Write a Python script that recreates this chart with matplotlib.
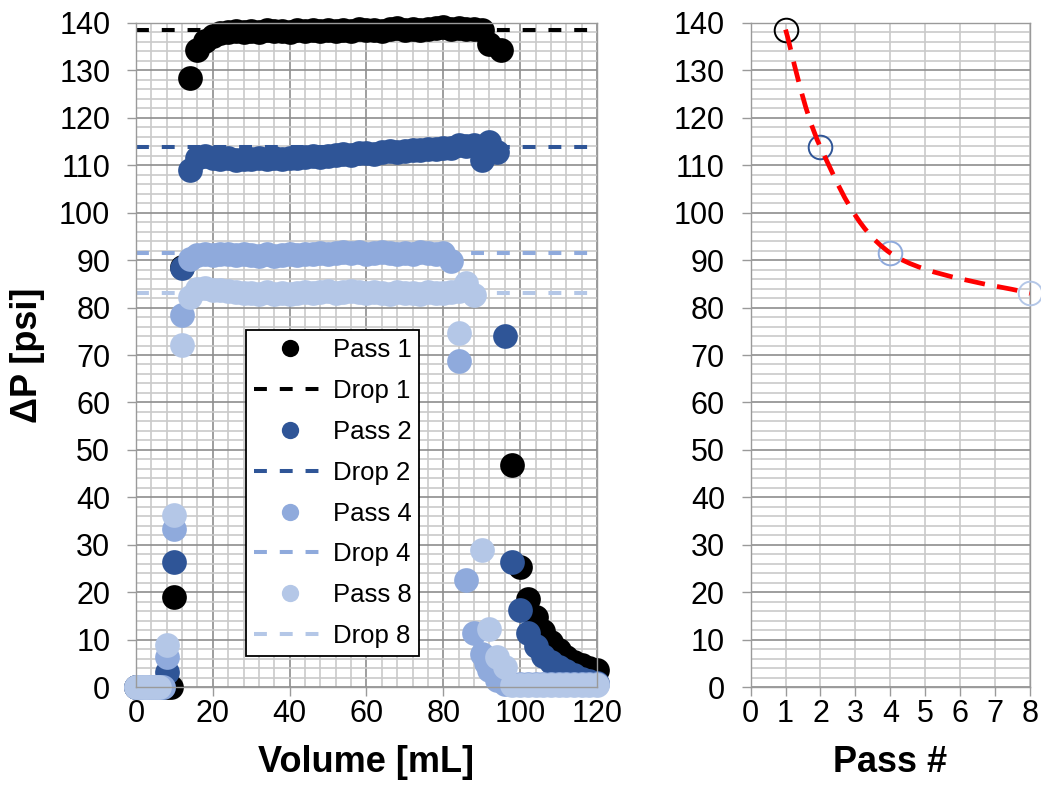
import numpy as np
import matplotlib
matplotlib.use('Agg')
import matplotlib.pyplot as plt
from matplotlib.path import Path
from matplotlib.patches import PathPatch
from matplotlib.ticker import MultipleLocator

plt.rcParams['font.family'] = ['Liberation Sans', 'DejaVu Sans']

# pressure drop vs. volume pushed, one trace per pass
vol_p1 = [0, 1, 2, 3, 4, 5, 6, 7, 8, 9, 10, 12, 14, 16, 18,
          20, 22, 24, 26, 28, 30, 32, 34, 36, 38, 40, 42, 44, 46, 48, 50, 52, 54,
          56, 58, 60, 62, 64, 66, 68, 70, 72, 74, 76, 78, 80, 82, 84, 86, 88, 90,
          92, 95, 98, 100, 102, 104, 106, 108, 110, 112, 114, 116, 118, 120]
dp_p1 = [0, 0, 0, 0, 0, 0, 0, 0, 0, 0, 19.0, 88.5, 128.4, 134.4, 136.3,
         137.2, 137.8, 138.0, 138.3, 138.1, 138.4, 138.2, 138.5, 138.3, 138.4, 138.2, 138.5, 138.3, 138.6, 138.4, 138.5, 138.3, 138.6,
         138.4, 138.7, 138.5, 138.6, 138.4, 138.7, 138.9, 138.6, 138.8, 138.5, 138.7, 138.9, 139.2, 138.8, 138.9, 138.7, 138.8, 138.5,
         135.6, 134.2, 46.8, 25.4, 18.5, 14.8, 11.8, 9.5, 7.8, 6.4, 5.3, 4.6, 4.0, 3.6]

vol_p2 = [0, 1, 2, 3, 4, 5, 6, 7, 8, 10, 12, 14, 16, 18,
          20, 22, 24, 26, 28, 30, 32, 34, 36, 38, 40, 42, 44, 46, 48, 50, 52, 54,
          56, 58, 60, 62, 64, 66, 68, 70, 72, 74, 76, 78, 80, 82, 84, 86, 88,
          90, 92, 94, 96, 98, 100, 102, 104, 106, 108, 110, 112, 114, 116, 118, 120]
dp_p2 = [0, 0, 0, 0, 0, 0, 0, 0, 3.2, 26.4, 88.3, 109.0, 111.6, 111.9,
         111.6, 111.3, 111.5, 111.2, 111.4, 111.3, 111.6, 111.4, 111.5, 111.3, 111.6, 111.5, 111.7, 111.9, 111.8, 112.0, 112.1, 112.3,
         112.2, 112.5, 112.6, 112.4, 112.8, 113.0, 112.8, 113.1, 113.3, 113.2, 113.5, 113.4, 113.6, 113.7, 114.2, 114.0, 114.3,
         111.2, 115.0, 112.8, 74.1, 26.4, 16.2, 11.3, 8.6, 6.6, 5.2, 4.2, 3.4, 2.6, 1.8, 1.2, 0.8]

vol_p4 = [0, 1, 2, 3, 4, 5, 6, 7, 8, 10, 12, 14,
          16, 18, 20, 22, 24, 26, 28, 30, 32, 34, 36, 38, 40, 42, 44, 46, 48,
          50, 52, 54, 56, 58, 60, 62, 64, 66, 68, 70, 72, 74, 76, 78, 80,
          82, 84, 86, 88, 90, 91, 92, 94,
          96, 98, 100, 102, 104, 106, 108, 110, 112, 114, 116, 118, 120]
dp_p4 = [0, 0, 0, 0, 0, 0, 0, 0, 6.4, 33.3, 78.5, 90.3,
         91.0, 91.3, 91.1, 91.4, 91.2, 91.0, 91.3, 91.1, 90.9, 91.2, 90.8, 91.0, 91.3,
         91.1, 91.4, 91.2, 91.5, 91.3, 91.6, 91.8, 91.5, 91.7, 91.4, 91.6, 91.8, 91.5, 91.3, 91.6, 91.4, 91.7, 91.5, 91.3, 91.5,
         89.8, 68.7, 22.6, 11.3, 7.0, 5.0, 3.6, 1.5,
         0.6, 0.6, 0.6, 0.6, 0.6, 0.6, 0.6, 0.6, 0.6, 0.6, 0.6, 0.6, 0.6]

vol_p8 = [0, 1, 2, 3, 4, 5, 6, 8, 10, 12, 14,
          16, 18, 20, 22, 24, 26, 28, 30, 32, 34, 36, 38, 40, 42, 44, 46, 48, 50,
          52, 54, 56, 58, 60, 62, 64, 66, 68, 70, 72, 74, 76, 78, 80, 82, 84,
          86, 88, 84, 90, 92, 94, 96,
          98, 100, 102, 104, 106, 108, 110, 112, 114, 116, 118, 120]
dp_p8 = [0, 0, 0, 0, 0, 0, 0, 8.9, 36.3, 72.2, 82.3,
         84.0, 84.2, 83.8, 83.6, 83.4, 83.2, 83.0, 83.1, 82.9, 83.2, 82.8, 83.0, 82.9, 83.1, 83.3, 83.0, 83.2, 83.4,
         83.1, 83.3, 83.5, 83.2, 83.0, 83.3, 83.1, 82.9, 83.2, 83.0, 83.1, 82.9, 83.2, 83.0, 83.1, 83.3, 83.4,
         85.2, 82.7, 74.6, 28.8, 12.2, 6.4, 4.3,
         0.5, 0.5, 0.5, 0.5, 0.5, 0.5, 0.5, 0.5, 0.5, 0.5, 0.5, 0.5]

# steady-state drop for each pass
pass_num = [1, 2, 4, 8]
drop_dp = [138.6, 113.8, 91.5, 83.0]

colors = ['#000000', '#2F5597', '#8FAADC', '#B4C7E7']
series = [(vol_p1, dp_p1), (vol_p2, dp_p2), (vol_p4, dp_p4), (vol_p8, dp_p8)]

major_c = '#8e8e8e'
minor_c = '#cacaca'
axis_c = '#9a9a9a'


def style_axis(ax):
    ax.set_axisbelow(True)
    ax.yaxis.set_major_locator(MultipleLocator(10))
    ax.yaxis.set_minor_locator(MultipleLocator(2))
    ax.set_ylim(0, 140)
    ax.grid(which='major', axis='y', color=major_c, lw=1.2)
    ax.grid(which='minor', axis='y', color=minor_c, lw=1.2)
    for s in ax.spines.values():
        s.set_color(axis_c)
        s.set_linewidth(1.0)
    ax.tick_params(which='major', direction='out', length=6.5, width=1, color=axis_c,
                   labelsize=22, pad=2)
    ax.tick_params(axis='y', which='major', pad=12)
    ax.tick_params(which='minor', length=0)


def smooth_path(xs, ys):
    # Catmull-Rom segments written as cubic Bezier pieces (spreadsheet-style smoothed line)
    pts = np.column_stack([xs, ys]).astype(float)
    n = len(pts)
    verts = [pts[0]]
    codes = [Path.MOVETO]
    for i in range(n - 1):
        p0 = pts[i - 1] if i > 0 else pts[i]
        p1 = pts[i]
        p2 = pts[i + 1]
        p3 = pts[i + 2] if i + 2 < n else pts[i + 1]
        verts += [p1 + (p2 - p0) / 6.0, p2 - (p3 - p1) / 6.0, p2]
        codes += [Path.CURVE4] * 3
    return Path(verts, codes)


fig = plt.figure(figsize=(10.41, 7.95), dpi=100)
ax1 = fig.add_axes([0.1306, 0.1358, 0.4429, 0.8353])
ax2 = fig.add_axes([0.7211, 0.1358, 0.2683, 0.8353])

# ---- left: dP vs volume ----
style_axis(ax1)
ax1.set_xlim(0, 120)
ax1.xaxis.set_major_locator(MultipleLocator(20))
ax1.xaxis.set_minor_locator(MultipleLocator(4))
ax1.grid(which='major', axis='x', color=major_c, lw=1.2)
ax1.grid(which='minor', axis='x', color=minor_c, lw=1.2)

for (vx, vy), c, p, d in zip(series, colors, pass_num, drop_dp):
    ax1.plot(vx, vy, 'o', ms=17.8, color=c, mew=0, ls='none', clip_on=False,
             label='Pass %d' % p)
    ax1.axhline(d, color=c, lw=2.9, ls=(0, (3.2, 3.2)), label='Drop %d' % p)

leg = ax1.legend(loc='upper left', bbox_to_anchor=(0.2386, 0.5377), borderaxespad=0,
                 fontsize=18.5, markerscale=0.7, handlelength=2.8, handletextpad=0.28,
                 labelspacing=0.66, borderpad=0.3, fancybox=False, framealpha=1,
                 edgecolor='black')
leg.get_frame().set_linewidth(1.3)

ax1.set_xlabel('Volume [mL]', fontsize=26, fontweight='bold')
ax1.set_ylabel('ΔP [psi]', fontsize=26, fontweight='bold')
ax1.xaxis.set_label_coords(0.5, -0.087)
ax1.yaxis.set_label_coords(-0.197, 0.5)

# ---- right: steady drop vs pass number ----
style_axis(ax2)
ax2.set_xlim(0, 8)
ax2.xaxis.set_major_locator(MultipleLocator(1))
ax2.grid(which='major', axis='x', color=minor_c, lw=1.2)

for p, d, c in zip(pass_num, drop_dp, colors):
    ax2.plot(p, d, 'o', ms=17, mfc='none', mec=c, mew=1.4, clip_on=False, zorder=3)
ax2.add_patch(PathPatch(smooth_path(pass_num, drop_dp), fill=False, edgecolor='#FF0000',
                        lw=3.4, ls=(0, (4.4, 2.6)), zorder=4))

ax2.set_xlabel('Pass #', fontsize=26, fontweight='bold')
ax2.xaxis.set_label_coords(0.5, -0.087)

fig.savefig('out.png', dpi=100)
